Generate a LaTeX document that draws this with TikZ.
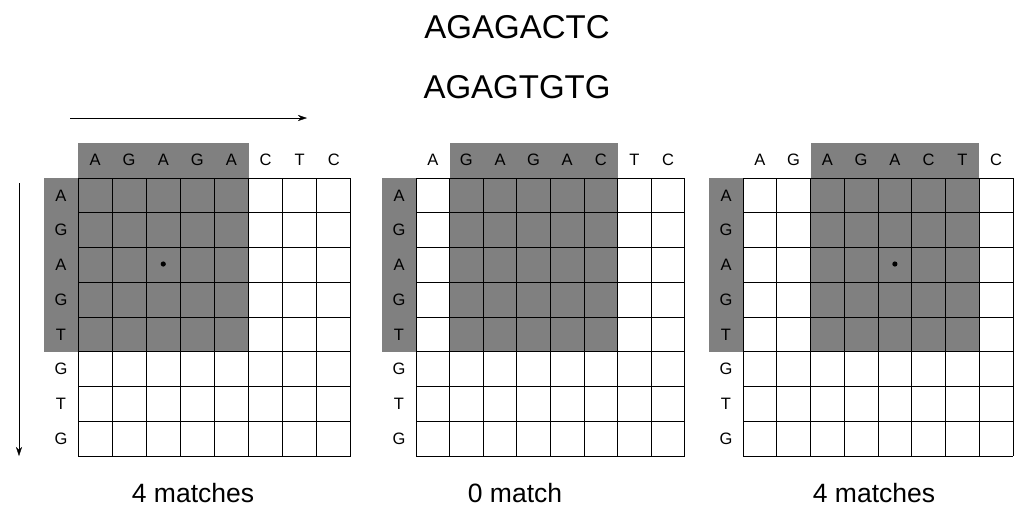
\documentclass[tikz,border=0pt]{standalone}
\usepackage{fontspec}
\setmainfont{Liberation Sans}
\usetikzlibrary{arrows.meta}
\definecolor{sh}{RGB}{128,128,128}
\newcommand{\mygrid}[6]{% x0, w, shade start col, dot col (-1 none), label, label x
\begin{scope}[shift={(#1,0)}]
\fill[sh] ({#3*#2},143) rectangle ({(#3+5)*#2},178);
\fill[sh] (-34,178) rectangle (0,352);
\fill[sh] ({#3*#2},178) rectangle ({(#3+5)*#2},352);
\foreach \i in {0,...,8} {
  \draw[thick] ({\i*#2},178) -- ({\i*#2},456);
  \draw[thick] (0,{178+\i*34.75}) -- ({8*#2},{178+\i*34.75});
}
\foreach \c [count=\k from 0] in {A,G,A,G,A,C,T,C}
  \node[lbl] at ({(\k+0.5)*#2},160) {\c};
\foreach \c [count=\k from 0] in {A,G,A,G,T,G,T,G}
  \node[lbl] at (-17,{178+(\k+0.5)*34.75}) {\c};
\ifnum#4>-1 \fill ({(#4+0.5)*#2},264) circle (2.6); \fi
\node[font=\fontsize{26.5}{30}\selectfont] at (#6,493) {#5};
\end{scope}}
\begin{document}
\begin{tikzpicture}[x=1pt,y=-1pt,lbl/.style={font=\fontsize{16.5}{19}\selectfont}]
\useasboundingbox (0,0) rectangle (1024,515);
\node[font=\fontsize{33}{38}\selectfont] (s1) at (517,27) {AGAGACTC};
\node[font=\fontsize{33}{38}\selectfont] (s2) at (517,87) {AGAGTGTG};
\mygrid{78}{34.1}{0}{2}{4 matches}{115}
\mygrid{416}{33.6}{1}{-1}{0 match}{99}
\mygrid{743}{33.75}{2}{4}{4 matches}{131}
\coordinate (h1) at (70,118); \coordinate (h2) at (307,118);
\draw[-{Stealth[length=9pt,width=6pt]}] (h1) -- (h2);
\coordinate (v1) at (19,183); \coordinate (v2) at (19,456);
\draw[-{Stealth[length=9pt,width=6pt]}] (v1) -- (v2);
\end{tikzpicture}
\end{document}
